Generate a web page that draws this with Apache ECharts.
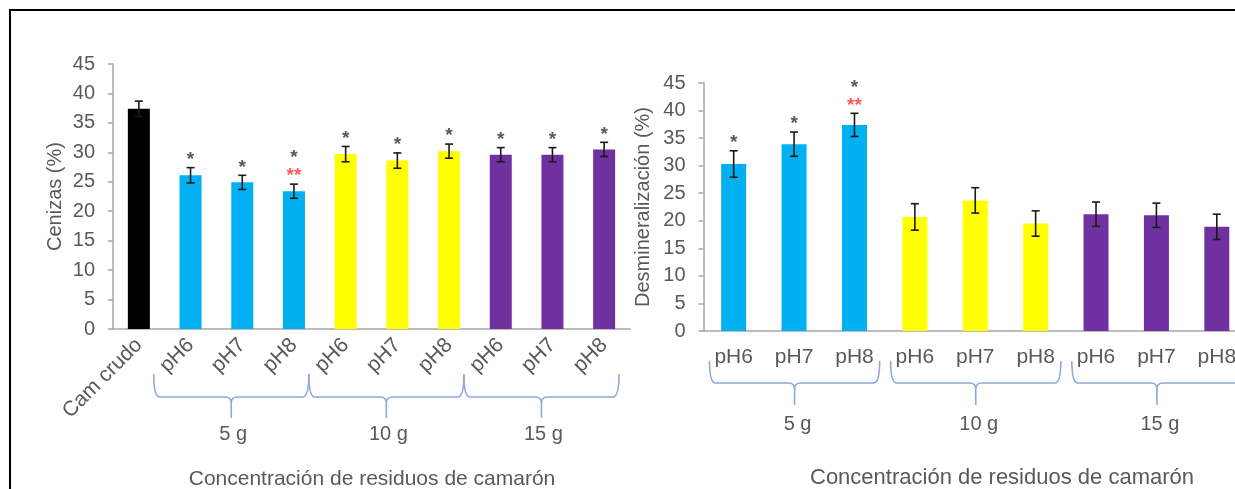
<!DOCTYPE html>
<html><head><meta charset="utf-8">
<script src="https://cdn.jsdelivr.net/npm/echarts/dist/echarts.min.js"></script>
<style>html,body{margin:0;padding:0;background:#fff}#c{width:1235px;height:489px}</style>
</head><body><div id="c"></div>
<script>
// ---- data ----
const categoriesLeft = ['Cam crudo','pH6','pH7','pH8','pH6','pH7','pH8','pH6','pH7','pH8'];
const cenizas    = [37.4, 26.1, 24.9, 23.4, 29.7, 28.6, 30.2, 29.6, 29.6, 30.5];
const cenizasErr = [1.3, 1.3, 1.2, 1.2, 1.3, 1.3, 1.2, 1.2, 1.2, 1.2];
const sigLeft    = ['', '*', '*', '*', '*', '*', '*', '*', '*', '*'];
const sig2Left   = ['', '', '', '**', '', '', '', '', '', ''];

const categoriesRight = ['pH6','pH7','pH8','pH6','pH7','pH8','pH6','pH7','pH8'];
const desmin    = [30.3, 33.9, 37.4, 20.7, 23.7, 19.5, 21.2, 21.0, 18.9];
const desminErr = [2.4, 2.2, 2.1, 2.4, 2.3, 2.3, 2.2, 2.2, 2.3];
const sigRight  = ['*', '*', '*', '', '', '', '', '', ''];
const sig2Right = ['', '', '**', '', '', '', '', '', ''];

const groupLabels     = ['5 g', '10 g', '15 g'];
const groupStartLeft  = [1, 4, 7];
const groupStartRight = [0, 3, 6];
const groupSize = 3;

const yTicks = [0, 5, 10, 15, 20, 25, 30, 35, 40, 45];
const yNameLeft = 'Cenizas (%)';
const yNameRight = 'Desmineralización (%)';
const xTitle = 'Concentración de residuos de camarón';

// ---- styles ----
const FONT = 'Liberation Sans, Arial, sans-serif';
const TXT = '#595959';
const AXIS = '#A6A6A6';
const BRACE = '#8EA9DB';
const groupColors = ['#00B0F0', '#FFFF00', '#7030A0'];
const rawColor = '#000000';

const chart = echarts.init(document.getElementById('c'));

function barColorLeft(i){ return i === 0 ? rawColor : groupColors[Math.floor((i-1)/groupSize)]; }
function barColorRight(i){ return groupColors[Math.floor(i/groupSize)]; }

function errRender(cap){
  return function(params, api){
    const i = api.value(0), v = api.value(1), e = api.value(2);
    const t = api.coord([i, v + e]), b = api.coord([i, v - e]);
    const st = {stroke:'#1a1a1a', lineWidth:1.6};
    return {type:'group', children:[
      {type:'line', shape:{x1:t[0], y1:t[1], x2:b[0], y2:b[1]}, style:st},
      {type:'line', shape:{x1:t[0]-cap, y1:t[1], x2:t[0]+cap, y2:t[1]}, style:st},
      {type:'line', shape:{x1:b[0]-cap, y1:b[1], x2:b[0]+cap, y2:b[1]}, style:st}
    ]};
  };
}

function sigRender(sig1, sig2){
  return function(params, api){
    const i = api.value(0), top = api.value(1);
    const p = api.coord([i, top]);
    const children = [];
    let y = p[1] - 8;
    if (sig2[i]) {
      children.push({type:'text', style:{text:sig2[i], x:p[0], y:y, align:'center', verticalAlign:'middle',
        fill:'#FF5B5B', font:'bold 19px ' + FONT}});
      y -= 18;
    }
    if (sig1[i]) {
      children.push({type:'text', style:{text:sig1[i], x:p[0], y:y, align:'center', verticalAlign:'middle',
        fill:TXT, font:'bold 19px ' + FONT}});
    }
    return {type:'group', children:children};
  };
}

function braceRender(o){
  return function(params, api){
    const s = api.value(0), k = api.value(1);
    const band = api.size([1, 0])[0];
    const a = api.coord([s, 0]);
    const xL = a[0] - band/2 + o.dl;
    const xR = a[0] - band/2 + groupSize*band + o.dr;
    const xm = (xL + xR) / 2;
    const base = a[1];
    const y0 = base + o.top, y1 = base + o.mid, y2 = base + o.tip, r = 6;
    const path = 'M' + xL + ' ' + y0 + ' Q' + xL + ' ' + y1 + ' ' + (xL + r) + ' ' + y1 +
      ' L' + (xm - r) + ' ' + y1 + ' Q' + xm + ' ' + y1 + ' ' + xm + ' ' + (y1 + r) +
      ' L' + xm + ' ' + y2 +
      ' M' + xR + ' ' + y0 + ' Q' + xR + ' ' + y1 + ' ' + (xR - r) + ' ' + y1 +
      ' L' + (xm + r) + ' ' + y1 + ' Q' + xm + ' ' + y1 + ' ' + xm + ' ' + (y1 + r);
    return {type:'group', children:[
      {type:'path', shape:{pathData:path}, style:{stroke:BRACE, lineWidth:1.6, fill:null}},
      {type:'text', style:{text:groupLabels[k], x:xm + o.tx, y:base + o.text, align:'center', verticalAlign:'middle',
        fill:TXT, font:'20px ' + FONT}}
    ]};
  };
}

function yAxisCfg(name, gap, gridIndex){
  return {
    type:'value', gridIndex:gridIndex, min:yTicks[0], max:yTicks[yTicks.length-1], interval:5,
    name:name, nameLocation:'middle', nameGap:gap, nameRotate:90,
    nameTextStyle:{color:TXT, fontSize:20, fontFamily:FONT},
    axisLine:{show:true, lineStyle:{color:AXIS, width:1.5}},
    axisTick:{show:true, length:5, lineStyle:{color:AXIS, width:1.5}},
    splitLine:{show:false},
    axisLabel:{color:TXT, fontSize:20, fontFamily:FONT, margin:18}
  };
}

const option = {
  animation:false,
  backgroundColor:'#ffffff',
  grid:[
    {left:113, width:517, top:64, bottom:160, outerBoundsMode:'none', containLabel:false},
    {left:703.5, width:543.5, top:83, bottom:158, outerBoundsMode:'none', containLabel:false}
  ],
  xAxis:[
    {type:'category', gridIndex:0, data:categoriesLeft,
     axisLine:{lineStyle:{color:AXIS, width:1.5}},
     axisTick:{length:5, lineStyle:{color:AXIS, width:1.5}},
     axisLabel:{interval:0, rotate:45, color:TXT, fontSize:21, fontFamily:FONT, margin:13}},
    {type:'category', gridIndex:1, data:categoriesRight,
     axisLine:{lineStyle:{color:AXIS, width:1.5}},
     axisTick:{length:5, lineStyle:{color:AXIS, width:1.5}},
     axisLabel:{interval:0, color:TXT, fontSize:21, fontFamily:FONT, margin:16, hideOverlap:false}}
  ],
  yAxis:[ yAxisCfg(yNameLeft, 48, 0), yAxisCfg(yNameRight, 50, 1) ],
  series:[
    {type:'bar', xAxisIndex:0, yAxisIndex:0, barWidth:22,
     data:cenizas.map((v,i)=>({value:v, itemStyle:{color:barColorLeft(i)}}))},
    {type:'custom', xAxisIndex:0, yAxisIndex:0, renderItem:errRender(4), z:5,
     data:cenizas.map((v,i)=>[i, v, cenizasErr[i]])},
    {type:'custom', xAxisIndex:0, yAxisIndex:0, renderItem:sigRender(sigLeft, sig2Left), z:5,
     data:cenizas.map((v,i)=>[i, v + cenizasErr[i]])},
    {type:'custom', xAxisIndex:0, yAxisIndex:0, clip:false, z:5,
     renderItem:braceRender({dl:-11, dr:-11, top:45, mid:68, tip:89, text:105, tx:2}),
     data:groupStartLeft.map((s,k)=>[s, k])},

    {type:'bar', xAxisIndex:1, yAxisIndex:1, barWidth:25,
     data:desmin.map((v,i)=>({value:v, itemStyle:{color:barColorRight(i)}}))},
    {type:'custom', xAxisIndex:1, yAxisIndex:1, renderItem:errRender(4), z:5,
     data:desmin.map((v,i)=>[i, v, desminErr[i]])},
    {type:'custom', xAxisIndex:1, yAxisIndex:1, renderItem:sigRender(sigRight, sig2Right), z:5,
     data:desmin.map((v,i)=>[i, v + desminErr[i]])},
    {type:'custom', xAxisIndex:1, yAxisIndex:1, clip:false, z:5,
     renderItem:braceRender({dl:6, dr:-5, top:30, mid:52, tip:74, text:93, tx:3}),
     data:groupStartRight.map((s,k)=>[s, k])}
  ],
  graphic:[
    {type:'rect', shape:{x:10, y:10, width:1400, height:700}, style:{stroke:'#000', lineWidth:2, fill:null}, z:100},
    {type:'text', style:{text:xTitle, x:372, y:479, align:'center', verticalAlign:'middle', fill:TXT, font:'21px ' + FONT}},
    {type:'text', style:{text:xTitle, x:1002, y:478, align:'center', verticalAlign:'middle', fill:TXT, font:'22px ' + FONT}}
  ]
};
chart.setOption(option);
</script>
</body></html>
